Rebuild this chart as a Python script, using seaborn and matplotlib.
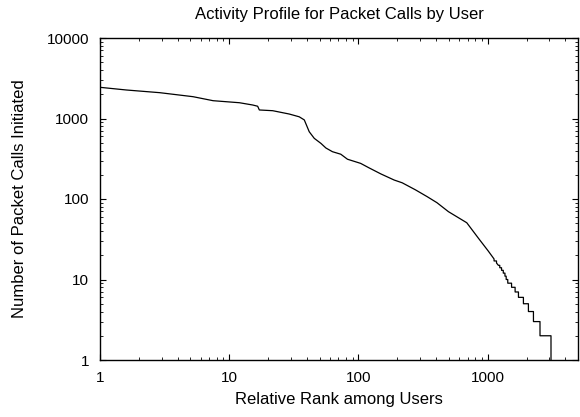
import numpy as np
import pandas as pd
import seaborn as sns
import matplotlib
matplotlib.use("Agg")
import matplotlib.pyplot as plt

# rank / packet-call count (log-log, rank ordered)
rank = [1, 1.6, 2.9, 5.25, 7.5, 12, 15.2, 16.6, 17.1, 21.7, 29.1, 34.8, 38.1,
        41.6, 45.5, 51.3, 56, 62.9, 73, 82.2, 104, 120, 149, 189, 218, 276,
        340, 405, 497, 689, 850, 1010, 1120, 1121, 1170, 1171, 1210, 1240, 1241,
        1280, 1281, 1320, 1321, 1360, 1361, 1390, 1391, 1430, 1431, 1530, 1531,
        1630, 1631, 1730, 1731, 1890, 1891, 2066, 2067, 2260, 2261, 2540, 2541,
        3090, 3091]
calls = [2440, 2260, 2093, 1866, 1664, 1570, 1471, 1420, 1276, 1250, 1137, 1050, 960,
         685, 567, 490, 430, 387, 360, 312, 277, 245, 205, 172, 159, 130,
         107, 90, 69.6, 50.7, 32.4, 22.6, 18, 17, 17, 16, 15, 15, 14,
         14, 13, 13, 12, 12, 11, 11, 10, 10, 9, 9, 8,
         8, 7, 7, 6, 6, 5, 5, 4, 4, 3, 3, 2,
         2, 1]

x_ticks = [1, 10, 100, 1000]
x_labels = ["1", "10", "100", "1000"]
y_ticks = [1, 10, 100, 1000, 10000]
y_labels = ["1", "10", "100", "1000", "10000"]

sns.set_style("ticks")
plt.rcParams['font.family'] = ['Liberation Sans', 'DejaVu Sans']
plt.rcParams['font.size'] = 11
plt.rcParams['text.color'] = 'black'
plt.rcParams['axes.labelcolor'] = 'black'
plt.rcParams['xtick.color'] = 'black'
plt.rcParams['ytick.color'] = 'black'

df = pd.DataFrame({'Rank': rank, 'Calls': calls})

fig = plt.figure(figsize=(5.8, 4.17), dpi=100)
ax = fig.add_axes([100 / 580, 1 - 360 / 417, 478 / 580, 322 / 417])
ax.set(xscale='log', yscale='log')

sns.lineplot(data=df, x='Rank', y='Calls', ax=ax, color='black',
             linewidth=0.9, estimator=None, sort=False)

ax.set_xlim(1, 5000)
ax.set_ylim(1, 10000)
ax.set_xticks(x_ticks)
ax.set_xticklabels(x_labels)
ax.set_yticks(y_ticks)
ax.set_yticklabels(y_labels)

ax.tick_params(which='both', direction='in', top=True, right=True,
               color='black', labelcolor='black', labelsize=11)
ax.tick_params(which='major', length=4, width=0.8, pad=8)
ax.tick_params(which='minor', length=2, width=0.6)
for s in ax.spines.values():
    s.set_color('black')
    s.set_linewidth(1.0)

ax.set_title("Activity Profile for Packet Calls by User", fontsize=12, pad=14,
             color='black')
ax.set_xlabel("Relative Rank among Users", fontsize=12, labelpad=5, color='black')
ax.set_ylabel("Number of Packet Calls Initiated", fontsize=12, labelpad=14,
              color='black')

fig.savefig("out.png", dpi=100)
